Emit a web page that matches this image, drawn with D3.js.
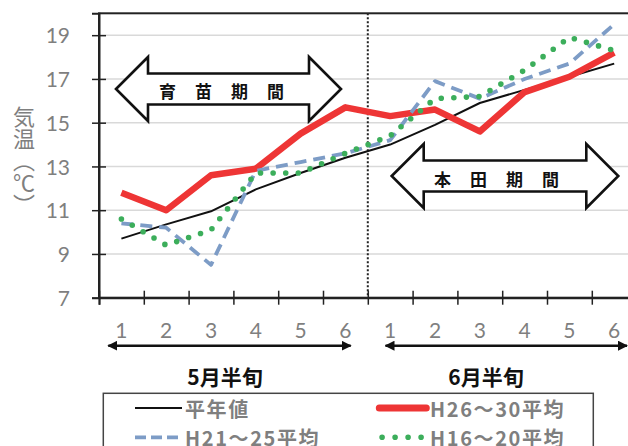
<!DOCTYPE html>
<html>
<head>
<meta charset="utf-8">
<script src="https://cdn.jsdelivr.net/npm/d3@7"></script>
<style>
  html, body { margin: 0; padding: 0; background: #fff; }
  svg { display: block; }
</style>
</head>
<body>
<svg id="chart" width="628" height="446"></svg>
<script>
// Half-month periods (May 1–6, June 1–6)
const categories = ["5-1", "5-2", "5-3", "5-4", "5-5", "5-6", "6-1", "6-2", "6-3", "6-4", "6-5", "6-6"];
const periodLabels = ["1", "2", "3", "4", "5", "6", "1", "2", "3", "4", "5", "6"];
const monthGroups = ["5月半旬", "6月半旬"];

// Mean air temperature (°C) per half-month period
const normalTemp = [9.7, 10.35, 10.95, 11.95, 12.7, 13.4, 14.0, 14.9, 15.9, 16.5, 17.1, 17.7];
const avgH26to30 = [11.8, 11.0, 12.6, 12.9, 14.5, 15.7, 15.3, 15.6, 14.6, 16.4, 17.1, 18.2];
const avgH21to25 = [10.4, 10.2, 8.5, 12.8, 13.2, 13.6, 14.2, 16.9, 16.1, 17.0, 17.7, 19.5];
const avgH16to20 = [10.6, 9.4, 10.1, 12.7, 12.7, 13.6, 14.4, 16.1, 16.2, 17.4, 18.9, 18.3];

const yTicks = [7, 9, 11, 13, 15, 17, 19];
const seriesNames = ["平年値", "H26～30平均", "H21～25平均", "H16～20平均"];
const periodNames = ["育苗期間", "本田期間"];
const yTitle = "気温（℃）";

// ---- layout ----
const plot = { left: 99, right: 636.6, top: 13.3, bottom: 297.7 };
const numFont = "Lato, 'Open Sans', sans-serif";
const jpFont = "'Noto Sans CJK JP', 'Noto Sans', sans-serif";
const gray = "#7f7f7f";

const svg = d3.select("#chart");

const xEdge = d3.scaleLinear().domain([0, categories.length]).range([plot.left, plot.right]);
const x = d3.scaleBand().domain(categories).range([plot.left, plot.right]).padding(0);
const xc = c => x(c) + x.bandwidth() / 2;
const y = d3.scaleLinear().domain([7, 20]).range([plot.bottom, plot.top]);

// gridlines
svg.append("g")
  .selectAll("line")
  .data(yTicks.filter(v => v > 7))
  .join("line")
  .attr("x1", plot.left).attr("x2", plot.right)
  .attr("y1", d => y(d)).attr("y2", d => y(d))
  .attr("stroke", "#d9d9d9").attr("stroke-width", 1.6);

// period block arrows (white-filled outline double arrows)
function blockArrow(x0, x1, cy, headLen, shaftHalf, headHalf) {
  const p = d3.path();
  p.moveTo(x0, cy);
  p.lineTo(x0 + headLen, cy - headHalf);
  p.lineTo(x0 + headLen, cy - shaftHalf);
  p.lineTo(x1 - headLen, cy - shaftHalf);
  p.lineTo(x1 - headLen, cy - headHalf);
  p.lineTo(x1, cy);
  p.lineTo(x1 - headLen, cy + headHalf);
  p.lineTo(x1 - headLen, cy + shaftHalf);
  p.lineTo(x0 + headLen, cy + shaftHalf);
  p.lineTo(x0 + headLen, cy + headHalf);
  p.closePath();
  return p.toString();
}
const periodArrows = [
  { name: periodNames[0], x0: 116, x1: 341, cy: 89, textX: 159, textY: 93.5 },
  { name: periodNames[1], x0: 391.7, x1: 618.3, cy: 176, textX: 434, textY: 181.5 }
];
const ann = svg.append("g");
ann.selectAll("path")
  .data(periodArrows)
  .join("path")
  .attr("d", d => blockArrow(d.x0, d.x1, d.cy, 32, 15.5, 32))
  .attr("fill", "#fff").attr("stroke", "#111").attr("stroke-width", 2.6)
  .attr("stroke-linejoin", "miter");
ann.selectAll("text")
  .data(periodArrows)
  .join("text")
  .attr("x", d => d.textX).attr("y", d => d.textY)
  .attr("dominant-baseline", "middle")
  .style("font-family", jpFont).style("font-weight", 700)
  .style("font-size", "17px").style("letter-spacing", "19px")
  .attr("fill", "#111")
  .text(d => d.name);

// boundary between May and June
svg.append("line")
  .attr("x1", xEdge(6)).attr("x2", xEdge(6))
  .attr("y1", plot.top).attr("y2", plot.bottom)
  .attr("stroke", "#222").attr("stroke-width", 2).attr("stroke-dasharray", "2,2");

// plot frame
svg.append("rect")
  .attr("x", plot.left).attr("y", plot.top)
  .attr("width", plot.right - plot.left).attr("height", plot.bottom - plot.top)
  .attr("fill", "none").attr("stroke", "#222").attr("stroke-width", 2);

// y axis
const yAxis = svg.append("g")
  .attr("transform", `translate(${plot.left},0)`)
  .call(d3.axisLeft(y).tickValues(yTicks).tickSize(7).tickPadding(0));
yAxis.select(".domain").attr("stroke", "#222").attr("stroke-width", 2);
yAxis.selectAll(".tick line").attr("x1", -7).attr("x2", 7).attr("stroke", "#222").attr("stroke-width", 1.5);
yAxis.selectAll(".tick text")
  .attr("x", -29).attr("dy", "0.36em")
  .style("font-family", numFont).style("font-size", "21px").attr("fill", gray);

// x axis: tick marks at period boundaries
const xAxis = svg.append("g")
  .attr("transform", `translate(0,${plot.bottom})`)
  .call(d3.axisBottom(xEdge).tickValues(d3.range(0, categories.length + 1)).tickSize(7).tickFormat(""));
xAxis.select(".domain").attr("stroke", "#222").attr("stroke-width", 2);
xAxis.selectAll(".tick line").attr("y1", -7).attr("y2", 7).attr("stroke", "#222").attr("stroke-width", 1.5);

// x axis: period numbers centred in each band
const xLab = svg.append("g")
  .attr("transform", `translate(0,${plot.bottom})`)
  .call(d3.axisBottom(x).tickSize(0).tickPadding(0).tickFormat((d, i) => periodLabels[i]));
xLab.select(".domain").remove();
xLab.selectAll(".tick text")
  .attr("y", 32.5).attr("dy", "0.36em")
  .style("font-family", numFont).style("font-size", "21px").attr("fill", gray);

// series lines
const line = d3.line().x((d, i) => xc(categories[i])).y(d => y(d));
const series = [
  { name: seriesNames[0], values: normalTemp, color: "#111", width: 2, dash: null, cap: "butt" },
  { name: seriesNames[1], values: avgH26to30, color: "#ee3535", width: 6.5, dash: null, cap: "butt" },
  { name: seriesNames[2], values: avgH21to25, color: "#7d9cc6", width: 3.8, dash: "12,7", cap: "butt" },
  { name: seriesNames[3], values: avgH16to20, color: "#3cae5b", width: 5.6, dash: "0,12.6", cap: "round" }
];
svg.append("g")
  .selectAll("path")
  .data(series)
  .join("path")
  .attr("d", d => line(d.values))
  .attr("fill", "none")
  .attr("stroke", d => d.color)
  .attr("stroke-width", d => d.width)
  .attr("stroke-dasharray", d => d.dash)
  .attr("stroke-linecap", d => d.cap)
  .attr("stroke-linejoin", "round");

// y axis title, set vertically
svg.append("text")
  .attr("x", 24).attr("y", 106)
  .style("writing-mode", "vertical-rl")
  .style("font-family", jpFont).style("font-size", "22px")
  .attr("fill", gray)
  .text(yTitle);

// month range arrows under the axis
const defs = svg.append("defs");
defs.append("marker")
  .attr("id", "tri").attr("viewBox", "0 0 10 10")
  .attr("refX", 9).attr("refY", 5)
  .attr("markerWidth", 10).attr("markerHeight", 10)
  .attr("markerUnits", "userSpaceOnUse")
  .attr("orient", "auto-start-reverse")
  .append("path").attr("d", "M0,0L10,5L0,10Z").attr("fill", "#111");

const monthSpans = [
  { label: monthGroups[0], x0: 108.3, x1: 350.7, cx: 225 },
  { label: monthGroups[1], x0: 385.5, x1: 627, cx: 486 }
];
const mg = svg.append("g");
mg.selectAll("line")
  .data(monthSpans)
  .join("line")
  .attr("x1", d => d.x0).attr("x2", d => d.x1)
  .attr("y1", 345.7).attr("y2", 345.7)
  .attr("stroke", "#111").attr("stroke-width", 2.5)
  .attr("marker-start", "url(#tri)").attr("marker-end", "url(#tri)");
mg.selectAll("text")
  .data(monthSpans)
  .join("text")
  .attr("x", d => d.cx)
  .attr("y", 376)
  .attr("text-anchor", "middle").attr("dominant-baseline", "central")
  .style("font-family", jpFont).style("font-weight", 700).style("font-size", "21px")
  .attr("fill", "#111")
  .text(d => d.label);

// legend
const lg = svg.append("g");
lg.append("rect")
  .attr("x", 103.3).attr("y", 393.3).attr("width", 490).attr("height", 80)
  .attr("fill", "#fff").attr("stroke", "#444").attr("stroke-width", 1.5);
const legendPos = [
  { sx: 135, tx: 185, y: 408 },
  { sx: 379.3, tx: 430, y: 408 },
  { sx: 135, tx: 185, y: 437.3 },
  { sx: 379.3, tx: 430, y: 437.3 }
];
series.forEach((s, i) => {
  const p = legendPos[i];
  lg.append("line")
    .attr("x1", p.sx + (s.cap === "round" ? 2.8 : 0)).attr("x2", p.sx + 47)
    .attr("y1", p.y).attr("y2", p.y)
    .attr("stroke", s.color)
    .attr("stroke-width", i === 1 ? 7 : s.width)
    .attr("stroke-dasharray", i === 2 ? "11,5" : (i === 3 ? "0,13" : null))
    .attr("stroke-linecap", i === 1 ? "round" : s.cap);
  lg.append("text")
    .attr("x", p.tx).attr("y", p.y)
    .attr("dominant-baseline", "central")
    .style("font-family", jpFont).style("font-weight", 700).style("font-size", "20px")
    .style("letter-spacing", "1.6px")
    .attr("fill", gray)
    .text(s.name);
});
</script>
</body>
</html>
